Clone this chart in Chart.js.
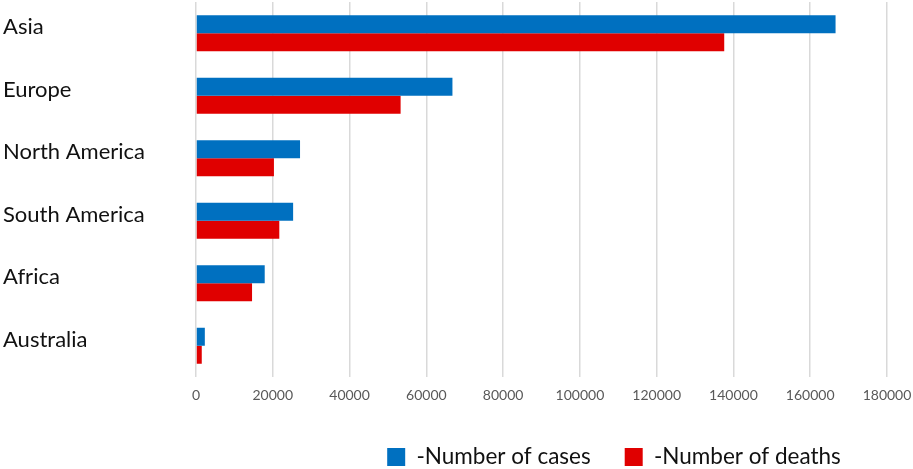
<!DOCTYPE html>
<html><head><meta charset="utf-8">
<script src="https://cdn.jsdelivr.net/npm/chart.js@4.4.1/dist/chart.umd.min.js"></script>
<style>html,body{margin:0;padding:0;background:#fff}#wrap{width:913px;height:469px}</style>
</head><body><div id="wrap"><canvas id="c" style="width:913px;height:469px"></canvas></div>
<script>
const categories = ['Asia', 'Europe', 'North America', 'South America', 'Africa', 'Australia'];
const casesValues = [166600, 66800, 27100, 25300, 17900, 2300];
const deathsValues = [137600, 53300, 20300, 21700, 14600, 1500];
const seriesLabels = ['-Number of cases', '-Number of deaths'];
const xMin = 0, xMax = 180000, xStep = 20000;

const LEGEND_FONT = 22.5, LEGEND_PAD = 34;

const legendShift = {
  id: 'legendShift',
  afterLayout(chart) {
    const l = chart.legend;
    const dx = 614 - (l.left + l.right) / 2;
    l.left += dx; l.right += dx;
    const dy = 457 - (l.top + LEGEND_PAD + Math.max(LEGEND_FONT, 18) / 2);
    l.top += dy; l.bottom += dy;
  }
};

new Chart(document.getElementById('c'), {
  type: 'bar',
  data: {
    labels: categories,
    datasets: [
      { label: seriesLabels[0], data: casesValues, backgroundColor: '#0070C0', borderWidth: 0 },
      { label: seriesLabels[1], data: deathsValues, backgroundColor: '#E00000', borderWidth: 0 }
    ]
  },
  options: {
    indexAxis: 'y',
    responsive: false,
    animation: false,
    categoryPercentage: 0.576,
    barPercentage: 1.0,
    layout: { padding: { left: 3, right: 26, top: 2, bottom: 0 } },
    plugins: {
      legend: {
        position: 'bottom',
        labels: {
          boxWidth: 18, boxHeight: 18, padding: LEGEND_PAD,
          color: '#111111',
          font: { family: 'Lato', size: LEGEND_FONT }
        }
      },
      tooltip: { enabled: false }
    },
    scales: {
      x: {
        min: xMin, max: xMax,
        ticks: { stepSize: xStep, color: '#595959', font: { family: 'Lato', size: 14 }, padding: 10, maxRotation: 0,
          callback: (v) => String(v) },
        grid: { color: '#D9D9D9', lineWidth: 1.5, drawTicks: false },
        border: { display: false },
        afterFit(s) {
          s.height = 469 - s.chart.legend.height - 377;
          s.paddingLeft = 0; s.paddingRight = 0;
        }
      },
      y: {
        ticks: { crossAlign: 'far', color: '#111111', font: { family: 'Lato', size: 22 }, labelOffset: -6, padding: 0 },
        grid: { display: false, drawTicks: false },
        border: { display: false },
        afterFit(s) { s.width = 193; s.paddingTop = 0; s.paddingBottom = 0; }
      }
    }
  },
  plugins: [legendShift]
});
</script></body></html>
